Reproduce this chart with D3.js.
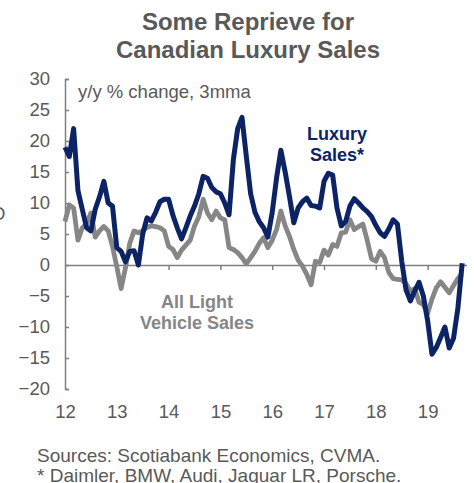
<!DOCTYPE html>
<html>
<head>
<meta charset="utf-8">
<script src="https://cdn.jsdelivr.net/npm/d3@7"></script>
<style>
  html, body { margin: 0; padding: 0; background: #fff; }
  svg { display: block; font-family: "Liberation Sans", Arial, sans-serif; }
</style>
</head>
<body>
<svg id="chart" width="474" height="483"></svg>
<script>
// Monthly, Jan 2012 – Sep 2019, y/y % change (3-month moving average)
const yearLabels = ["12", "13", "14", "15", "16", "17", "18", "19"];
const yTicks = [-20, -15, -10, -5, 0, 5, 10, 15, 20, 25, 30];

const luxurySales = [
  19, 17.5, 22, 12, 9, 6, 5.5, 9, 11, 13.5, 10, 9.5,          // 2012
  2.8, 2.2, 0.5, 2.2, 2.3, 0, 5, 7.6, 7.1, 8.5, 10.2, 10.6,   // 2013
  10.6, 8, 6, 4.2, 6, 7.9, 9.5, 11.5, 14.3, 14, 12.5, 11.8,   // 2014
  11.5, 10, 8.1, 17, 22, 23.8, 17.5, 11.5, 8.5, 7, 6, 4.5,    // 2015
  8.5, 14, 18.5, 15, 11, 6.8, 9.2, 10.2, 10.8, 9.6, 9.5, 9.2, // 2016
  13.5, 14.8, 14.5, 9.2, 6.3, 7, 9.5, 10.7, 10, 9.2, 8.6, 7.8,// 2017
  6.4, 5.2, 4.6, 5.8, 7.3, 6.6, 0.6, -4, -5.8, -4.2, -2.8, -5,// 2018
  -9, -14.4, -13.3, -11.7, -10, -13.4, -11.8, -7, 0.3         // 2019
];

const allLightVehicles = [
  7, 9.7, 9.2, 4, 6, 6.6, 8.4, 4.5, 5.5, 6.2, 5.5, 3,         // 2012
  -0.3, -3.8, -0.5, 3.5, 5.5, 5.2, 5.5, 6.1, 6.3, 6.2, 6, 5.5,// 2013
  3, 2.5, 1.2, 2.4, 3.2, 4, 6.3, 7.8, 10.6, 8.4, 7.3, 8.7,    // 2014
  7.6, 7.3, 2.8, 2.5, 2, 1.2, 0.2, 1.2, 2.2, 3.5, 4.4, 2.8,   // 2015
  4, 5.7, 8.7, 6.3, 4.6, 2.5, 0.8, -0.2, -1.5, -3.2, 0.6, 0.4,// 2016
  2.4, 1.6, 3.3, 3, 5.2, 5.3, 7.3, 5.7, 6.2, 6.6, 4, 1,       // 2017
  0.6, 2.2, 1.2, -1.2, -2.2, -2.3, -2.4, -3, -4.2, -3.8, -6, -6.4, // 2018
  -7.8, -5.5, -3.7, -2.7, -3.6, -4.5, -3.3, -2.2, -1.4        // 2019
];

const navy = "#0c2466";
const grey = "#868686";
const textGrey = "#595959";
const axisGrey = "#7f7f7f";
const fontSize = 18.5;

const svg = d3.select("#chart");

const x = d3.scaleLinear().domain([0, 93]).range([65, 466.5]);
const y = d3.scaleLinear().domain([-20, 30]).range([389, 79]);

// Title
svg.append("text")
  .attr("x", 248).attr("y", 30)
  .attr("text-anchor", "middle")
  .attr("font-size", 24).attr("font-weight", "bold")
  .attr("fill", textGrey)
  .text("Some Reprieve for");
svg.append("text")
  .attr("x", 248).attr("y", 58)
  .attr("text-anchor", "middle")
  .attr("font-size", 24).attr("font-weight", "bold")
  .attr("fill", textGrey)
  .text("Canadian Luxury Sales");

// Edge of neighbouring label
svg.append("text")
  .attr("x", -9).attr("y", 220)
  .attr("font-size", fontSize)
  .attr("fill", textGrey)
  .text("O");

// Y axis (ticks point inward)
const yAxis = d3.axisLeft(y)
  .tickValues(yTicks)
  .tickSizeInner(-4)
  .tickSizeOuter(-4)
  .tickPadding(15)
  .tickFormat(d3.format("d"));
const gy = svg.append("g")
  .attr("transform", `translate(${x(0)},0)`)
  .call(yAxis);
gy.select(".domain").attr("stroke", axisGrey).attr("stroke-width", 1.5);
gy.selectAll(".tick line").attr("stroke", axisGrey).attr("stroke-width", 1.5);
gy.selectAll(".tick text")
  .attr("fill", textGrey)
  .attr("font-size", fontSize)
  .attr("font-family", "Liberation Sans, Arial, sans-serif");

// Zero line with yearly tick marks
const yearTicks = d3.range(0, 96, 12);
const xAxis = d3.axisBottom(x)
  .tickValues(yearTicks.slice(1))
  .tickSizeInner(5)
  .tickSizeOuter(0)
  .tickFormat("");
const gx = svg.append("g")
  .attr("transform", `translate(0,${y(0)})`)
  .call(xAxis);
gx.select(".domain").attr("stroke", axisGrey).attr("stroke-width", 1.5);
gx.selectAll(".tick line").attr("stroke", axisGrey).attr("stroke-width", 1.5);

// Year labels along the bottom
svg.append("g")
  .selectAll("text")
  .data(yearLabels)
  .join("text")
  .attr("x", (d, i) => x(yearTicks[i]) + 0.5)
  .attr("y", 418)
  .attr("text-anchor", "middle")
  .attr("font-size", fontSize)
  .attr("fill", textGrey)
  .text(d => d);

// Series lines
const line = d3.line()
  .x((d, i) => x(i))
  .y(d => y(d))
  .curve(d3.curveLinear);

svg.append("path")
  .datum(allLightVehicles)
  .attr("fill", "none")
  .attr("stroke", grey)
  .attr("stroke-width", 4.8)
  .attr("stroke-linejoin", "round")
  .attr("d", line);

svg.append("path")
  .datum(luxurySales)
  .attr("fill", "none")
  .attr("stroke", navy)
  .attr("stroke-width", 5)
  .attr("stroke-linejoin", "round")
  .attr("d", line);

// Subtitle
svg.append("text")
  .attr("x", 78).attr("y", 97.5)
  .attr("font-size", fontSize)
  .attr("fill", textGrey)
  .text("y/y % change, 3mma");

// Series labels
const luxLabel = svg.append("text")
  .attr("text-anchor", "middle")
  .attr("font-size", 18).attr("font-weight", "bold")
  .attr("fill", navy);
luxLabel.append("tspan").attr("x", 337).attr("y", 140).text("Luxury");
luxLabel.append("tspan").attr("x", 337).attr("y", 161).text("Sales*");

const lvLabel = svg.append("text")
  .attr("text-anchor", "middle")
  .attr("font-size", 18).attr("font-weight", "bold")
  .attr("fill", grey);
lvLabel.append("tspan").attr("x", 197).attr("y", 308).text("All Light");
lvLabel.append("tspan").attr("x", 197).attr("y", 328.5).text("Vehicle Sales");

// Footnotes
svg.append("text")
  .attr("x", 37).attr("y", 461.5)
  .attr("font-size", 19)
  .attr("fill", textGrey)
  .text("Sources: Scotiabank Economics, CVMA.");
svg.append("text")
  .attr("x", 37).attr("y", 482)
  .attr("font-size", 19)
  .attr("fill", textGrey)
  .text("* Daimler, BMW, Audi, Jaguar LR, Porsche.");
</script>
</body>
</html>
